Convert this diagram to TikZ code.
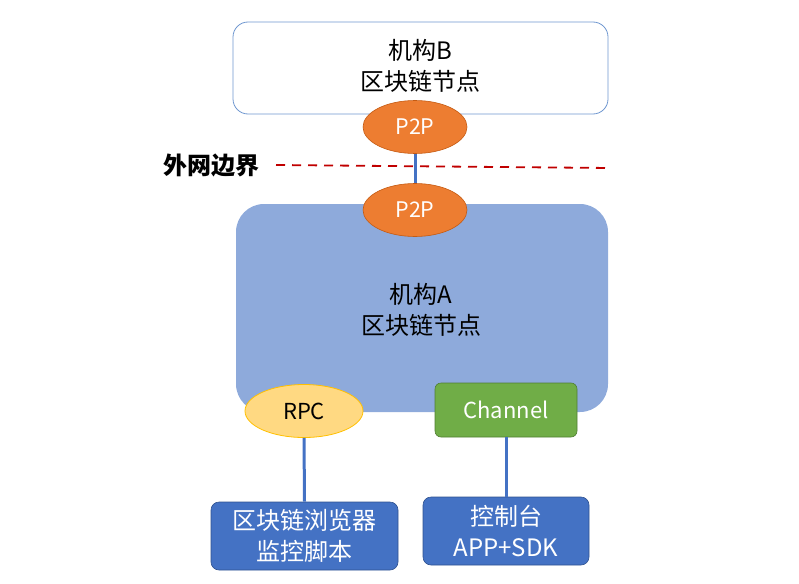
\documentclass[tikz,border=0pt]{standalone}
\usepackage{fontspec}
\setmainfont{Noto Sans CJK SC}
\usetikzlibrary{shapes.geometric}
\definecolor{boxborder}{HTML}{6F97D0}
\definecolor{afill}{HTML}{8EAADB}
\definecolor{p2pfill}{HTML}{ED7D31}
\definecolor{p2pborder}{HTML}{C55A11}
\definecolor{rpcfill}{HTML}{FFD982}
\definecolor{rpcborder}{HTML}{FFC000}
\definecolor{chfill}{HTML}{70AD47}
\definecolor{chborder}{HTML}{507E32}
\definecolor{darkblue}{HTML}{4472C4}
\definecolor{darkblueborder}{HTML}{2F528F}
\definecolor{linkblue}{HTML}{4472C4}
\definecolor{edgered}{HTML}{C00000}
\tikzset{
  cjktext/.style={align=center, font=\fontsize{24}{31}\selectfont},
  p2pnode/.style={ellipse, fill=p2pfill, draw=p2pborder, line width=0.6pt, minimum width=104pt, minimum height=53pt, inner sep=0pt, text=white, font=\fontsize{21.5}{22}\selectfont},
  rpcnode/.style={ellipse, fill=rpcfill, draw=rpcborder, line width=0.8pt, minimum width=118pt, minimum height=53pt, inner sep=0pt, text=black, font=\fontsize{22}{22}\selectfont},
  chnode/.style={rectangle, rounded corners=6pt, fill=chfill, draw=chborder, line width=0.6pt, minimum width=142pt, minimum height=54pt, inner sep=0pt, text=white, font=\fontsize{22}{22}\selectfont},
  clientbox/.style={rectangle, rounded corners=8pt, fill=darkblue, draw=darkblueborder, line width=0.6pt, inner sep=0pt, text=white, align=center, font=\fontsize{24}{31}\selectfont},
  linkline/.style={draw=linkblue, line width=3pt},
}
\begin{document}
\begin{tikzpicture}[x=1pt,y=-1pt]
\useasboundingbox (0,0) rectangle (799,583);
% organisation B
\node[rectangle, rounded corners=15pt, draw=boxborder, fill=white, line width=0.8pt, minimum width=375pt, minimum height=92pt, inner sep=0pt] (orgB) at (420.5,68) {};
\node[cjktext] (orgBtext) at (420,66) {机构B\\区块链节点};
% organisation A
\node[rectangle, rounded corners=28pt, fill=afill, minimum width=372pt, minimum height=208pt, inner sep=0pt] (orgA) at (422,308) {};
\node[cjktext] (orgAtext) at (421,310) {机构A\\区块链节点};
% P2P
\node[p2pnode] (p2pB) at (415,127) {P2P};
\node[p2pnode] (p2pA) at (415,210) {P2P};
\draw[linkline] (p2pB.south) -- (p2pA.north);
% boundary
\coordinate (bl) at (276,165);
\coordinate (br) at (610,168);
\draw[edgered, line width=1.8pt, dash pattern=on 9pt off 7pt] (bl) -- (br);
\node[font=\bfseries\fontsize{24}{26}\selectfont] (boundary) at (211,165) {外网边界};
% RPC and Channel
\node[rpcnode] (rpc) at (304,411) {RPC};
\node[chnode] (ch) at (506,410) {Channel};
% clients
\node[clientbox, minimum width=187pt, minimum height=68pt] (browser) at (304.5,536) {区块链浏览器\\监控脚本};
\node[clientbox, minimum width=166pt, minimum height=68pt] (console) at (506,531) {控制台\\APP+SDK};
\draw[linkline] (rpc.south) -- (browser.north);
\draw[linkline] (ch.south) -- (console.north);
\end{tikzpicture}
\end{document}
